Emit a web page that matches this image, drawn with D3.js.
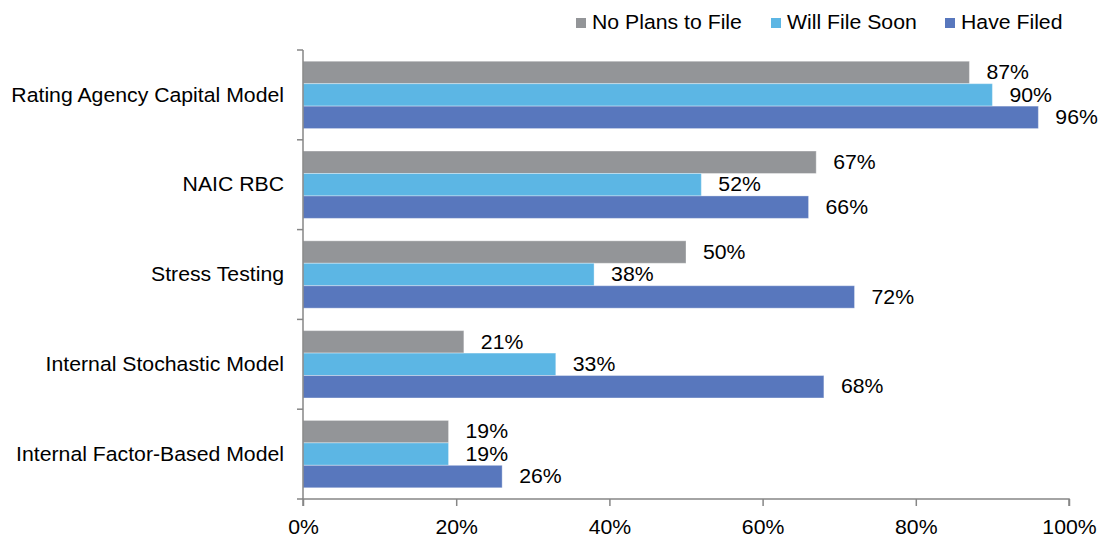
<!DOCTYPE html>
<html>
<head>
<meta charset="utf-8">
<script src="https://cdn.jsdelivr.net/npm/d3@7"></script>
<style>
  body { margin: 0; background: #fff; }
  text { font-family: "Liberation Sans", Arial, sans-serif; fill: #000; font-size: 19.5px; }
</style>
</head>
<body>
<div id="chart"></div>
<script>
// categories (top to bottom) and series
const categories = ["Rating Agency Capital Model", "NAIC RBC", "Stress Testing", "Internal Stochastic Model", "Internal Factor-Based Model"];
const seriesNames = ["No Plans to File", "Will File Soon", "Have Filed"];
const noPlans = [87, 67, 50, 21, 19];
const willFile = [90, 52, 38, 33, 19];
const haveFiled = [96, 66, 72, 68, 26];
const xTicks = [0, 20, 40, 60, 80, 100];
const colors = ["#939598", "#5CB6E4", "#5877BD"];

const width = 1100, height = 538;
const plotLeft = 303, plotRight = 1069, plotTop = 50, plotBottom = 499;
const stretch = 1.09; // the text in the original is a bit wider than Arial

const svg = d3.select("#chart").append("svg")
    .attr("width", width)
    .attr("height", height);

const x = d3.scaleLinear().domain([0, 100]).range([plotLeft, plotRight]);

const y0 = d3.scaleBand()
    .domain(categories)
    .range([plotTop, plotBottom])
    .paddingInner(0.25)
    .paddingOuter(0.125);

const y1 = d3.scaleBand()
    .domain(seriesNames)
    .range([0, y0.bandwidth()]);

const values = [noPlans, willFile, haveFiled];
const rows = [];
categories.forEach((c, i) => {
    seriesNames.forEach((s, j) => {
        rows.push({ cat: c, series: s, idx: j, value: values[j][i] });
    });
});

// bars
svg.selectAll(".bar")
    .data(rows)
    .enter()
    .append("rect")
    .attr("class", "bar")
    .attr("x", x(0))
    .attr("y", d => y0(d.cat) + y1(d.series))
    .attr("width", d => x(d.value) - x(0))
    .attr("height", y1.bandwidth())
    .attr("fill", d => colors[d.idx])
    .attr("stroke", "#fff")
    .attr("stroke-opacity", 0.35)
    .attr("stroke-width", 1);

// value labels
svg.selectAll(".label")
    .data(rows)
    .enter()
    .append("text")
    .attr("class", "label")
    .attr("transform", d => `translate(${x(d.value) + 17},${y0(d.cat) + y1(d.series) + y1.bandwidth() / 2 + 1.5}) scale(${stretch},1)`)
    .attr("dominant-baseline", "middle")
    .text(d => d.value + "%");

// y axis line with boundary ticks
const yBounds = categories.map(c => y0(c) - y0.step() * 0.125).concat([plotBottom]);
svg.append("line")
    .attr("x1", plotLeft).attr("x2", plotLeft)
    .attr("y1", plotTop).attr("y2", plotBottom)
    .attr("stroke", "#868686").attr("stroke-width", 1.5);
svg.selectAll(".ytick")
    .data(yBounds)
    .enter()
    .append("line")
    .attr("x1", plotLeft - 6).attr("x2", plotLeft)
    .attr("y1", d => d).attr("y2", d => d)
    .attr("stroke", "#868686").attr("stroke-width", 1.5);

// category labels
svg.selectAll(".cat")
    .data(categories)
    .enter()
    .append("text")
    .attr("transform", d => `translate(284,${y0(d) + y0.bandwidth() / 2 + 1.5}) scale(${stretch},1)`)
    .attr("text-anchor", "end")
    .attr("dominant-baseline", "middle")
    .text(d => d);

// x axis
const xAxis = svg.append("g")
    .attr("transform", `translate(0,${plotBottom})`)
    .call(d3.axisBottom(x).tickValues(xTicks).tickSize(7).tickPadding(10).tickFormat(d => d + "%"));
xAxis.select(".domain").attr("stroke", "#868686").attr("stroke-width", 1.5).attr("d", `M${plotLeft},7V0H${plotRight}V7`);
xAxis.selectAll(".tick line").attr("stroke", "#868686").attr("stroke-width", 1.5);
xAxis.selectAll(".tick text")
    .attr("y", null).attr("dy", null)
    .attr("transform", `translate(0,29.5) scale(${stretch},1)`)
    .attr("dominant-baseline", "middle")
    .style("font-size", "19.5px")
    .style("font-family", "'Liberation Sans', Arial, sans-serif")
    .attr("fill", "#000");

// legend
const legendX = [576, 771, 945];
const legend = svg.selectAll(".legend")
    .data(seriesNames)
    .enter()
    .append("g")
    .attr("transform", (d, i) => `translate(${legendX[i]},0)`);
legend.append("rect")
    .attr("x", 0).attr("y", 18)
    .attr("width", 10).attr("height", 10)
    .attr("fill", (d, i) => colors[i]);
legend.append("text")
    .attr("transform", `translate(16,24) scale(${stretch},1)`)
    .attr("dominant-baseline", "middle")
    .text(d => d);
</script>
</body>
</html>
